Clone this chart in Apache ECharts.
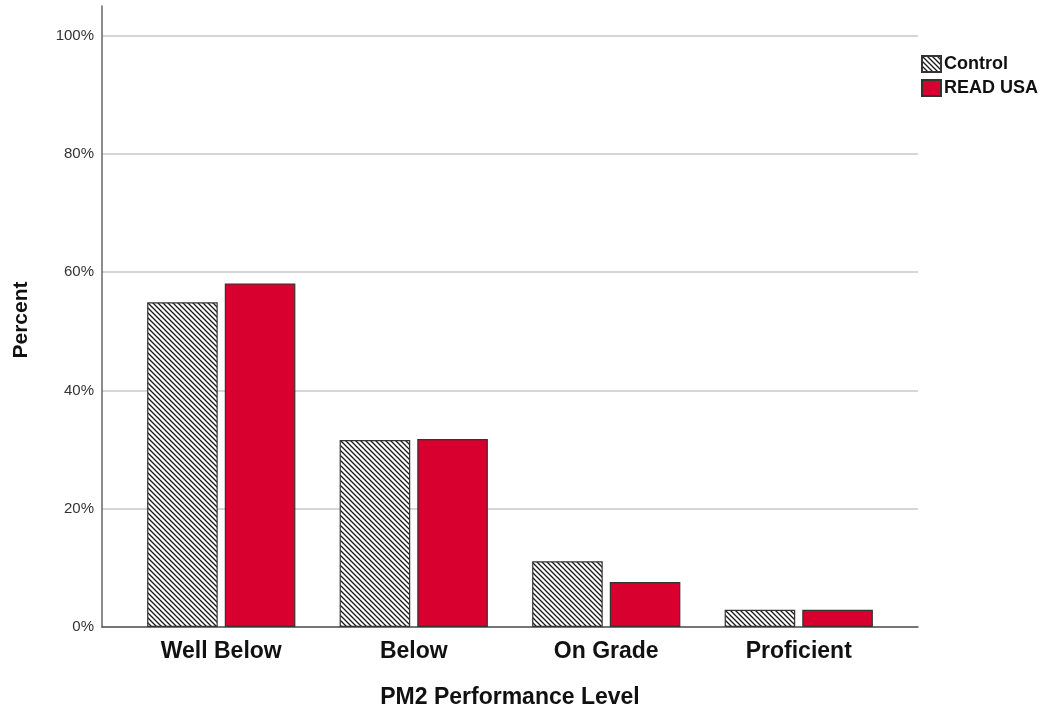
<!DOCTYPE html>
<html>
<head>
<meta charset="utf-8">
<script src="https://cdn.jsdelivr.net/npm/echarts@6/dist/echarts.min.js"></script>
<style>
  html, body { margin: 0; padding: 0; background: #ffffff; }
  #chart { width: 1046px; height: 715px; }
</style>
</head>
<body>
<div id="chart"></div>
<script>
// 数据
var categories = ['Well Below', 'Below', 'On Grade', 'Proficient'];
var controlValues = [54.9, 31.6, 11.1, 2.9];
var readUsaValues = [58.1, 31.8, 7.6, 2.9];
var yTicks = [0, 20, 40, 60, 80, 100];

// 斜线填充
function makeHatch() {
    var c = document.createElement('canvas');
    c.width = 5;
    c.height = 5;
    var ctx = c.getContext('2d');
    ctx.fillStyle = '#ffffff';
    ctx.fillRect(0, 0, 5, 5);
    ctx.strokeStyle = '#1a1a1a';
    ctx.lineWidth = 1.3;
    ctx.beginPath();
    ctx.moveTo(-1, -1); ctx.lineTo(6, 6);
    ctx.moveTo(-1, 4); ctx.lineTo(1, 6);
    ctx.moveTo(4, -1); ctx.lineTo(6, 1);
    ctx.stroke();
    return c;
}

var chart = echarts.init(document.getElementById('chart'));
var font = 'Liberation Sans, Arial, sans-serif';
var option = {
    backgroundColor: '#ffffff',
    animation: false,
    textStyle: { fontFamily: font },
    // grid 0 画坐标框, grid 1 放柱子
    grid: [
        { left: 102, right: 128, top: 6, bottom: 88 },
        { left: 125, right: 151, top: 6, bottom: 88 }
    ],
    legend: {
        left: 916,
        top: 50,
        orient: 'vertical',
        itemWidth: 19,
        itemHeight: 16,
        itemGap: 6,
        icon: 'rect',
        textStyle: { fontSize: 18, fontWeight: 'bold', color: '#111', padding: [0, 0, 0, -2] },
        data: ['Control', 'READ USA']
    },
    xAxis: [{
        gridIndex: 0,
        type: 'value',
        min: 0,
        max: 1,
        axisLine: { show: true, onZero: false, lineStyle: { color: '#555', width: 1.5 } },
        axisTick: { show: false },
        axisLabel: { show: false },
        splitLine: { show: false },
        name: 'PM2 Performance Level',
        nameLocation: 'middle',
        nameGap: 59,
        nameTextStyle: { fontSize: 23, fontWeight: 'bold', color: '#111' }
    }, {
        gridIndex: 1,
        type: 'category',
        data: categories,
        axisLine: { show: false },
        axisTick: { show: false },
        axisLabel: { fontSize: 23, fontWeight: 'bold', color: '#111', margin: 13 }
    }],
    yAxis: [{
        gridIndex: 0,
        type: 'value',
        min: 0,
        max: 105,
        interval: 20,
        name: 'Percent',
        nameLocation: 'middle',
        nameGap: 70,
        nameTextStyle: { fontSize: 21, fontWeight: 'bold', color: '#111', padding: [0, 7, 0, 0] },
        axisLine: { show: true, lineStyle: { color: '#666', width: 1.5 } },
        axisTick: { show: false },
        axisLabel: {
            fontSize: 15,
            color: '#333',
            margin: 8,
            showMaxLabel: false,
            formatter: function (v) {
                return yTicks.indexOf(v) >= 0 ? v + '%' : '';
            }
        },
        splitLine: {
            lineStyle: {
                color: ['#c8c8c8', '#c8c8c8', '#c8c8c8', '#c8c8c8', '#c8c8c8', '#c8c8c8', 'rgba(0,0,0,0)'],
                width: 1.5
            }
        }
    }, {
        gridIndex: 1,
        type: 'value',
        min: 0,
        max: 105,
        show: false
    }],
    series: [{
        name: 'Control',
        type: 'bar',
        xAxisIndex: 1,
        yAxisIndex: 1,
        data: controlValues,
        barGap: '10%',
        barCategoryGap: '23%',
        itemStyle: {
            color: { image: makeHatch(), repeat: 'repeat' },
            borderColor: '#333',
            borderWidth: 1.2
        }
    }, {
        name: 'READ USA',
        type: 'bar',
        xAxisIndex: 1,
        yAxisIndex: 1,
        data: readUsaValues,
        itemStyle: {
            color: '#d7002e',
            borderColor: '#333',
            borderWidth: 1.2
        }
    }]
};
chart.setOption(option);
</script>
</body>
</html>
